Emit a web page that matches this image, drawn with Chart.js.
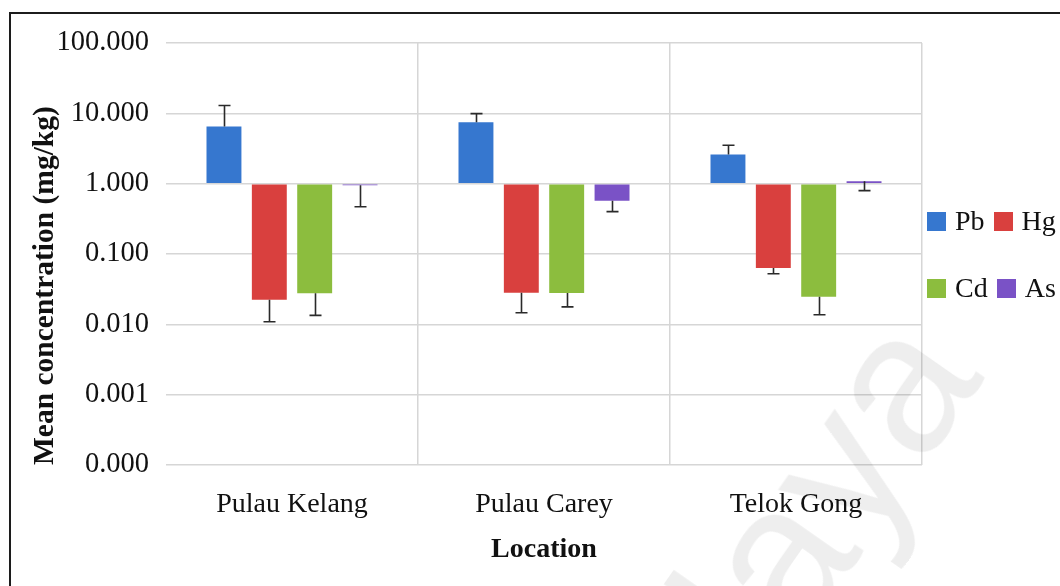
<!DOCTYPE html>
<html>
<head>
<meta charset="utf-8">
<script src="https://cdn.jsdelivr.net/npm/chart.js@4/dist/chart.umd.min.js"></script>
<style>
  html, body { margin: 0; padding: 0; background: #ffffff; }
  #wrap { position: relative; width: 1060px; height: 586px; overflow: hidden; background: #ffffff; }
  #frame { position: absolute; left: 9px; top: 12px; width: 1100px; height: 700px;
           border-top: 2px solid #1c1c1c; border-left: 2px solid #1c1c1c; }
  #chart { position: absolute; left: 0; top: 0; }
  #legend { position: absolute; left: 927px; top: 0; font-family: "Liberation Serif", "Times New Roman", serif;
            font-size: 28px; color: #111; }
  .row { position: absolute; left: 0; display: flex; align-items: center; white-space: nowrap; }
  .sw { width: 19px; height: 19px; display: inline-block; }
  .lab { display: inline-block; margin-left: 9px; margin-right: 9px; line-height: 1; }
  #mark { position: absolute; left: 477px; top: 809px; transform: rotate(-55deg); transform-origin: 0 0;
          font-family: "Liberation Sans", Arial, sans-serif; font-size: 200px; line-height: 1;
          color: rgba(0, 0, 0, 0.065); white-space: nowrap; pointer-events: none; }
</style>
</head>
<body>
<div id="wrap">
  <div id="frame"></div>
  <canvas id="chart" width="1060" height="586"></canvas>
  <div id="legend"></div>
  <div id="mark">Malaya</div>
</div>
<script>
// Sampling sites
const locations = ['Pulau Kelang', 'Pulau Carey', 'Telok Gong'];

// Mean metal concentrations (mg/kg) and the end value of each error whisker
const pbMean = [6.48, 7.46, 2.59];
const pbWhisker = [12.9, 9.9, 3.51];
const hgMean = [0.0223, 0.0281, 0.063];
const hgWhisker = [0.0109, 0.0146, 0.0524];
const cdMean = [0.0276, 0.028, 0.0246];
const cdWhisker = [0.0134, 0.0177, 0.0137];
const asMean = [0.946, 0.573, 1.08];
const asWhisker = [0.47, 0.40, 0.795];

// Log axis ticks and their printed labels
const yTickValues = [100, 10, 1, 0.1, 0.01, 0.001, 0.0001];
const yTickLabels = ['100.000', '10.000', '1.000', '0.100', '0.010', '0.001', '0.000'];

const metals = [
  { label: 'Pb', data: pbMean, whisker: pbWhisker, color: '#3677cf' },
  { label: 'Hg', data: hgMean, whisker: hgWhisker, color: '#d9403e' },
  { label: 'Cd', data: cdMean, whisker: cdWhisker, color: '#8cbd3e' },
  { label: 'As', data: asMean, whisker: asWhisker, color: '#7a52c6' }
];

const serif = '"Liberation Serif", "Times New Roman", serif';

// Draws the error whiskers on top of the bars
const whiskerPlugin = {
  id: 'whiskers',
  afterDatasetsDraw(chart) {
    const ctx = chart.ctx;
    const y = chart.scales.y;
    ctx.save();
    ctx.strokeStyle = '#2a2a2a';
    ctx.lineWidth = 1.6;
    chart.data.datasets.forEach((ds, i) => {
      const meta = chart.getDatasetMeta(i);
      meta.data.forEach((bar, j) => {
        const x = Math.round(bar.x) + 0.5;
        const y1 = y.getPixelForValue(ds.data[j]);
        const y2 = y.getPixelForValue(ds.whisker[j]);
        ctx.beginPath();
        ctx.moveTo(x, y1);
        ctx.lineTo(x, y2);
        ctx.moveTo(x - 6, y2);
        ctx.lineTo(x + 6, y2);
        ctx.stroke();
      });
    });
    ctx.restore();
  }
};

const chart = new Chart(document.getElementById('chart'), {
  type: 'bar',
  data: {
    labels: locations,
    datasets: metals.map(m => ({
      label: m.label,
      data: m.data,
      whisker: m.whisker,
      base: 1,
      backgroundColor: m.color,
      borderWidth: 0,
      categoryPercentage: 0.72,
      barPercentage: 0.77
    }))
  },
  options: {
    responsive: false,
    animation: false,
    layout: { padding: { left: 17, right: 138, top: 43, bottom: 0 } },
    plugins: {
      legend: { display: false },
      tooltip: { enabled: false }
    },
    scales: {
      x: {
        grid: {
          offset: true,
          drawTicks: false,
          lineWidth: 1.5,
          color: c => (c.index === 0 ? 'rgba(0,0,0,0)' : '#d6d6d6')
        },
        border: { display: false },
        ticks: { color: '#111', padding: 23, font: { family: serif, size: 28 } },
        title: {
          display: true,
          text: 'Location',
          color: '#111',
          padding: { top: 0, bottom: 19 },
          font: { family: serif, size: 28, weight: 'bold' }
        },
        afterFit: s => { s.height = 121; }
      },
      y: {
        type: 'logarithmic',
        min: 0.0001,
        max: 100,
        grid: { color: '#d6d6d6', lineWidth: 1.5, drawTicks: false },
        border: { display: false },
        afterBuildTicks: s => { s.ticks = yTickValues.slice().reverse().map(v => ({ value: v })); },
        ticks: {
          color: '#111',
          padding: 17,
          font: { family: serif, size: 28.5 },
          callback: v => yTickLabels[yTickValues.indexOf(v)]
        },
        title: {
          display: true,
          text: 'Mean concentration (mg/kg)',
          align: 'start',
          color: '#111',
          padding: { top: 11, bottom: 0 },
          font: { family: serif, size: 29.5, weight: 'bold' }
        },
        afterFit: s => { s.width = 149; }
      }
    }
  },
  plugins: [whiskerPlugin]
});

// Two-row legend built from the dataset names and colours
const legend = document.getElementById('legend');
const rows = [[metals[0], metals[1]], [metals[2], metals[3]]];
const rowCentres = [221, 288];
rows.forEach((pair, r) => {
  const row = document.createElement('div');
  row.className = 'row';
  row.style.top = (rowCentres[r] - 16) + 'px';
  row.style.height = '32px';
  pair.forEach(m => {
    const sw = document.createElement('span');
    sw.className = 'sw';
    sw.style.background = m.color;
    const lab = document.createElement('span');
    lab.className = 'lab';
    lab.textContent = m.label;
    row.appendChild(sw);
    row.appendChild(lab);
  });
  legend.appendChild(row);
});
</script>
</body>
</html>
